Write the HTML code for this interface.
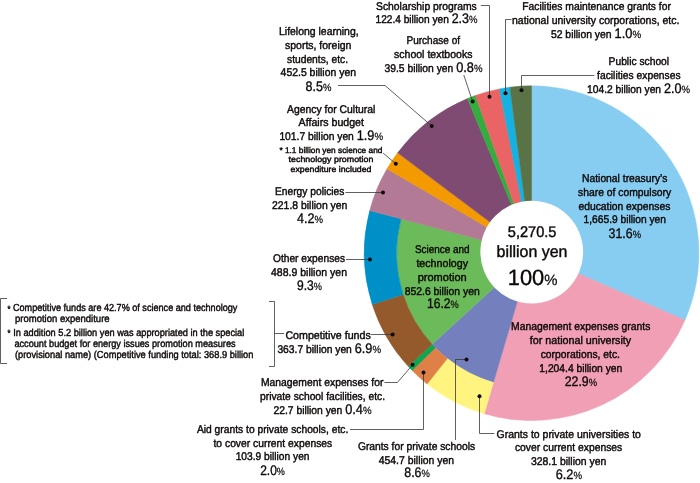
<!DOCTYPE html>
<html lang="en"><head><meta charset="utf-8"><title>Budget breakdown</title>
<style>
html,body{margin:0;padding:0;background:#fff;}
svg{display:block;}
text{font-family:"Liberation Sans",sans-serif;fill:#0e0908;stroke:#0e0908;stroke-width:0.42;text-rendering:geometricPrecision;}
.ln polyline{fill:none;stroke:#383838;stroke-width:0.8;}
</style></head><body>
<svg width="700" height="483" viewBox="0 0 700 483">
<rect width="700" height="483" fill="#fff"/>
<g shape-rendering="geometricPrecision">
<path d="M531.55 85.85A167.35 167.35 0 0 1 684.93 320.14L531.55 253.20Z" fill="#87cdf2" stroke="#87cdf2" stroke-width="0.5" stroke-linejoin="round"/>
<path d="M684.93 320.14A167.35 167.35 0 0 1 484.26 413.73L531.55 253.20Z" fill="#f09fb4" stroke="#f09fb4" stroke-width="0.5" stroke-linejoin="round"/>
<path d="M493.43 382.60A134.9 134.9 0 0 1 432.12 344.36L531.55 253.20Z" fill="#7480be" stroke="#7480be" stroke-width="0.5" stroke-linejoin="round"/>
<path d="M484.26 413.73A167.35 167.35 0 0 1 427.08 383.94L447.34 358.59A134.9 134.9 0 0 0 493.43 382.60Z" fill="#fff47f" stroke="#fff47f" stroke-width="0.5" stroke-linejoin="round"/>
<path d="M427.08 383.94A167.35 167.35 0 0 1 412.18 370.49L435.33 347.75A134.9 134.9 0 0 0 447.34 358.59Z" fill="#df8146" stroke="#df8146" stroke-width="0.5" stroke-linejoin="round"/>
<path d="M412.18 370.49A167.35 167.35 0 0 1 408.20 366.29L432.12 344.36A134.9 134.9 0 0 0 435.33 347.75Z" fill="#0fa551" stroke="#0fa551" stroke-width="0.5" stroke-linejoin="round"/>
<path d="M432.12 344.36A134.9 134.9 0 0 1 401.10 218.83L531.55 253.20Z" fill="#6cbb5a" stroke="#6cbb5a" stroke-width="0.5" stroke-linejoin="round"/>
<path d="M408.20 366.29A167.35 167.35 0 0 1 372.23 304.41L403.12 294.48A134.9 134.9 0 0 0 432.12 344.36Z" fill="#955a2b" stroke="#955a2b" stroke-width="0.5" stroke-linejoin="round"/>
<path d="M372.23 304.41A167.35 167.35 0 0 1 369.72 210.56L401.10 218.83A134.9 134.9 0 0 0 403.12 294.48Z" fill="#0090c8" stroke="#0090c8" stroke-width="0.5" stroke-linejoin="round"/>
<path d="M369.72 210.56A167.35 167.35 0 0 1 387.03 168.83L531.55 253.20Z" fill="#b27a94" stroke="#b27a94" stroke-width="0.5" stroke-linejoin="round"/>
<path d="M387.03 168.83A167.35 167.35 0 0 1 397.66 152.80L531.55 253.20Z" fill="#f39a00" stroke="#f39a00" stroke-width="0.5" stroke-linejoin="round"/>
<path d="M397.66 152.80A167.35 167.35 0 0 1 467.51 98.59L531.55 253.20Z" fill="#7f4b73" stroke="#7f4b73" stroke-width="0.5" stroke-linejoin="round"/>
<path d="M467.51 98.59A167.35 167.35 0 0 1 475.46 95.53L531.55 253.20Z" fill="#33ae3e" stroke="#33ae3e" stroke-width="0.5" stroke-linejoin="round"/>
<path d="M475.46 95.53A167.35 167.35 0 0 1 499.47 88.95L531.55 253.20Z" fill="#ea6465" stroke="#ea6465" stroke-width="0.5" stroke-linejoin="round"/>
<path d="M499.47 88.95A167.35 167.35 0 0 1 509.95 87.25L531.55 253.20Z" fill="#14b1e1" stroke="#14b1e1" stroke-width="0.5" stroke-linejoin="round"/>
<path d="M509.95 87.25A167.35 167.35 0 0 1 531.55 85.85L531.55 253.20Z" fill="#5a7346" stroke="#5a7346" stroke-width="0.5" stroke-linejoin="round"/>
<circle cx="531.75" cy="252.1" r="51.4" fill="#fff"/>
</g>
<g class="ln">
<polyline points="480.8,5.5 489.5,5.5 489.5,96.7"/>
<circle cx="489.5" cy="96.7" r="2" fill="#0e0908" stroke="none"/>
<polyline points="463.8,75 472.6,101.6"/>
<circle cx="472.6" cy="101.6" r="2" fill="#0e0908" stroke="none"/>
<polyline points="511.4,19.5 505.5,19.5 505.5,93.2"/>
<circle cx="505.5" cy="93.2" r="2" fill="#0e0908" stroke="none"/>
<polyline points="594.3,75.5 521.5,75.5 521.5,90.2"/>
<circle cx="521.5" cy="90.2" r="2" fill="#0e0908" stroke="none"/>
<polyline points="338,85.5 385,85.5 431.7,126"/>
<circle cx="431.7" cy="126" r="2" fill="#0e0908" stroke="none"/>
<polyline points="383,153 395.8,163.8"/>
<circle cx="395.8" cy="163.8" r="2" fill="#0e0908" stroke="none"/>
<polyline points="345.4,192.5 383,192.5"/>
<circle cx="383" cy="192.5" r="2" fill="#0e0908" stroke="none"/>
<polyline points="346,259.5 370,259.5"/>
<circle cx="370" cy="259.5" r="2" fill="#0e0908" stroke="none"/>
<polyline points="371,334.5 392.6,334.5"/>
<circle cx="392.6" cy="334.5" r="2" fill="#0e0908" stroke="none"/>
<polyline points="384.4,382.5 397.4,382.5 412.6,364.8"/>
<circle cx="412.6" cy="364.8" r="2" fill="#0e0908" stroke="none"/>
<polyline points="350,429.5 423.5,429.5 423.5,372.4"/>
<circle cx="423.5" cy="372.4" r="2" fill="#0e0908" stroke="none"/>
<polyline points="455.5,440 455.5,359.5 466.5,359.5"/>
<circle cx="466.5" cy="359.5" r="2" fill="#0e0908" stroke="none"/>
<polyline points="494.3,433.5 479.5,433.5 479.5,396.2"/>
<circle cx="479.5" cy="396.2" r="2" fill="#0e0908" stroke="none"/>
<polyline points="7,298.5 0.5,298.5 0.5,363.5 7,363.5"/>
<polyline points="269,301.5 274.5,301.5 274.5,366.5 269,366.5"/>
<polyline points="274.5,333.5 284.2,333.5"/>
</g>
<g>
<text x="376" y="9.85" font-size="11.2" textLength="100.8" lengthAdjust="spacingAndGlyphs" xml:space="preserve">Scholarship programs</text>
<text x="375.5" y="23.35" font-size="11.2" textLength="102.0" lengthAdjust="spacingAndGlyphs" xml:space="preserve"><tspan font-size="11.2">122.4 billion yen </tspan><tspan font-size="13.8" stroke-width="0.34">2.3</tspan><tspan font-size="10.5" stroke-width="0.22">%</tspan></text>
<text x="406.5" y="44.05" font-size="11.2" textLength="53.5" lengthAdjust="spacingAndGlyphs" xml:space="preserve">Purchase of</text>
<text x="394" y="57.85" font-size="11.2" textLength="78.5" lengthAdjust="spacingAndGlyphs" xml:space="preserve">school textbooks</text>
<text x="384.5" y="72.05" font-size="11.2" textLength="98.0" lengthAdjust="spacingAndGlyphs" xml:space="preserve"><tspan font-size="11.2">39.5 billion yen </tspan><tspan font-size="13.8" stroke-width="0.34">0.8</tspan><tspan font-size="10.5" stroke-width="0.22">%</tspan></text>
<text x="522.3" y="9.55" font-size="11.2" textLength="148.6" lengthAdjust="spacingAndGlyphs" xml:space="preserve">Facilities maintenance grants for</text>
<text x="512" y="23.85" font-size="11.2" textLength="167.4" lengthAdjust="spacingAndGlyphs" xml:space="preserve">national university corporations, etc.</text>
<text x="550.9" y="37.75" font-size="11.2" textLength="90.2" lengthAdjust="spacingAndGlyphs" xml:space="preserve"><tspan font-size="11.2">52 billion yen </tspan><tspan font-size="13.8" stroke-width="0.34">1.0</tspan><tspan font-size="10.5" stroke-width="0.22">%</tspan></text>
<text x="608.6" y="64.95" font-size="11.2" textLength="60.5" lengthAdjust="spacingAndGlyphs" xml:space="preserve">Public school</text>
<text x="597.1" y="79.05" font-size="11.2" textLength="83.5" lengthAdjust="spacingAndGlyphs" xml:space="preserve">facilities expenses</text>
<text x="587.1" y="92.65" font-size="11.2" textLength="102.9" lengthAdjust="spacingAndGlyphs" xml:space="preserve"><tspan font-size="11.2">104.2 billion yen </tspan><tspan font-size="13.8" stroke-width="0.34">2.0</tspan><tspan font-size="10.5" stroke-width="0.22">%</tspan></text>
<text x="582" y="181.95" font-size="11.2" textLength="85.4" lengthAdjust="spacingAndGlyphs" xml:space="preserve">National treasury’s</text>
<text x="578" y="195.75" font-size="11.2" textLength="93.2" lengthAdjust="spacingAndGlyphs" xml:space="preserve">share of compulsory</text>
<text x="578.4" y="209.75" font-size="11.2" textLength="92.0" lengthAdjust="spacingAndGlyphs" xml:space="preserve">education expenses</text>
<text x="583.6" y="223.35" font-size="11.2" textLength="82.4" lengthAdjust="spacingAndGlyphs" xml:space="preserve">1,665.9 billion yen</text>
<text x="608.6" y="237.75" font-size="13.8" textLength="32.4" lengthAdjust="spacingAndGlyphs" xml:space="preserve"><tspan font-size="13.8" stroke-width="0.34">31.6</tspan><tspan font-size="10.5" stroke-width="0.22">%</tspan></text>
<text x="511" y="330.45" font-size="11.2" textLength="139.4" lengthAdjust="spacingAndGlyphs" xml:space="preserve">Management expenses grants</text>
<text x="529.7" y="343.95" font-size="11.2" textLength="101.5" lengthAdjust="spacingAndGlyphs" xml:space="preserve">for national university</text>
<text x="540.7" y="357.55" font-size="11.2" textLength="79.3" lengthAdjust="spacingAndGlyphs" xml:space="preserve">corporations, etc.</text>
<text x="539.3" y="371.95" font-size="11.2" textLength="83.0" lengthAdjust="spacingAndGlyphs" xml:space="preserve">1,204.4 billion yen</text>
<text x="564.7" y="385.75" font-size="13.8" textLength="32.4" lengthAdjust="spacingAndGlyphs" xml:space="preserve"><tspan font-size="13.8" stroke-width="0.34">22.9</tspan><tspan font-size="10.5" stroke-width="0.22">%</tspan></text>
<text x="507.8" y="236.7" font-size="15.4" stroke-width="0.34" textLength="48.7" lengthAdjust="spacingAndGlyphs" xml:space="preserve">5,270.5</text>
<text x="496.6" y="256.8" font-size="16.2" stroke-width="0.34" textLength="70.8" lengthAdjust="spacingAndGlyphs" xml:space="preserve">billion yen</text>
<text x="507.8" y="285.4" font-size="22" textLength="49.7" lengthAdjust="spacingAndGlyphs" xml:space="preserve"><tspan font-size="22" stroke-width="0.34">100</tspan><tspan font-size="15" stroke-width="0.22">%</tspan></text>
<text x="414.9" y="253.05" font-size="11.2" textLength="54.6" lengthAdjust="spacingAndGlyphs" xml:space="preserve">Science and</text>
<text x="416.4" y="266.85" font-size="11.2" textLength="51.6" lengthAdjust="spacingAndGlyphs" xml:space="preserve">technology</text>
<text x="417.7" y="281.05" font-size="11.2" textLength="49.0" lengthAdjust="spacingAndGlyphs" xml:space="preserve">promotion</text>
<text x="404.7" y="294.55" font-size="11.2" textLength="75.0" lengthAdjust="spacingAndGlyphs" xml:space="preserve">852.6 billion yen</text>
<text x="427" y="308.05" font-size="13.8" textLength="31.7" lengthAdjust="spacingAndGlyphs" xml:space="preserve"><tspan font-size="13.8" stroke-width="0.34">16.2</tspan><tspan font-size="10.5" stroke-width="0.22">%</tspan></text>
<text x="279" y="35.35" font-size="11.2" textLength="79.6" lengthAdjust="spacingAndGlyphs" xml:space="preserve">Lifelong learning,</text>
<text x="285" y="48.95" font-size="11.2" textLength="66.4" lengthAdjust="spacingAndGlyphs" xml:space="preserve">sports, foreign</text>
<text x="287" y="62.95" font-size="11.2" textLength="61.0" lengthAdjust="spacingAndGlyphs" xml:space="preserve">students, etc.</text>
<text x="280.6" y="76.35" font-size="11.2" textLength="75.4" lengthAdjust="spacingAndGlyphs" xml:space="preserve">452.5 billion yen</text>
<text x="305.6" y="90.95" font-size="13.8" textLength="25.8" lengthAdjust="spacingAndGlyphs" xml:space="preserve"><tspan font-size="13.8" stroke-width="0.34">8.5</tspan><tspan font-size="10.5" stroke-width="0.22">%</tspan></text>
<text x="287" y="112.75" font-size="11.2" textLength="88.4" lengthAdjust="spacingAndGlyphs" xml:space="preserve">Agency for Cultural</text>
<text x="298.6" y="126.35" font-size="11.2" textLength="65.4" lengthAdjust="spacingAndGlyphs" xml:space="preserve">Affairs budget</text>
<text x="279.4" y="140.15" font-size="11.2" textLength="103.6" lengthAdjust="spacingAndGlyphs" xml:space="preserve"><tspan font-size="11.2">101.7 billion yen </tspan><tspan font-size="13.8" stroke-width="0.34">1.9</tspan><tspan font-size="10.5" stroke-width="0.22">%</tspan></text>
<text x="279.4" y="152.75" font-size="8.2" textLength="103.0" lengthAdjust="spacingAndGlyphs" xml:space="preserve">* 1.1 billion yen science and</text>
<text x="288.6" y="162.35" font-size="8.2" textLength="84.8" lengthAdjust="spacingAndGlyphs" xml:space="preserve">technology promotion</text>
<text x="290.6" y="171.95" font-size="8.2" textLength="80.8" lengthAdjust="spacingAndGlyphs" xml:space="preserve">expenditure included</text>
<text x="275" y="195.35" font-size="11.2" textLength="69.4" lengthAdjust="spacingAndGlyphs" xml:space="preserve">Energy policies</text>
<text x="272" y="208.95" font-size="11.2" textLength="75.4" lengthAdjust="spacingAndGlyphs" xml:space="preserve">221.8 billion yen</text>
<text x="297" y="222.95" font-size="13.8" textLength="26.0" lengthAdjust="spacingAndGlyphs" xml:space="preserve"><tspan font-size="13.8" stroke-width="0.34">4.2</tspan><tspan font-size="10.5" stroke-width="0.22">%</tspan></text>
<text x="273" y="262.35" font-size="11.2" textLength="72.0" lengthAdjust="spacingAndGlyphs" xml:space="preserve">Other expenses</text>
<text x="271" y="276.35" font-size="11.2" textLength="76.0" lengthAdjust="spacingAndGlyphs" xml:space="preserve">488.9 billion yen</text>
<text x="297" y="289.75" font-size="13.8" textLength="25.0" lengthAdjust="spacingAndGlyphs" xml:space="preserve"><tspan font-size="13.8" stroke-width="0.34">9.3</tspan><tspan font-size="10.5" stroke-width="0.22">%</tspan></text>
<text x="285.4" y="338.95" font-size="11.2" textLength="85.4" lengthAdjust="spacingAndGlyphs" xml:space="preserve">Competitive funds</text>
<text x="277.4" y="352.95" font-size="11.2" textLength="103.6" lengthAdjust="spacingAndGlyphs" xml:space="preserve"><tspan font-size="11.2">363.7 billion yen </tspan><tspan font-size="13.8" stroke-width="0.34">6.9</tspan><tspan font-size="10.5" stroke-width="0.22">%</tspan></text>
<text x="261" y="386.35" font-size="11.2" textLength="122.4" lengthAdjust="spacingAndGlyphs" xml:space="preserve">Management expenses for</text>
<text x="260" y="400.35" font-size="11.2" textLength="125.0" lengthAdjust="spacingAndGlyphs" xml:space="preserve">private school facilities, etc.</text>
<text x="273.4" y="413.95" font-size="11.2" textLength="98.2" lengthAdjust="spacingAndGlyphs" xml:space="preserve"><tspan font-size="11.2">22.7 billion yen </tspan><tspan font-size="13.8" stroke-width="0.34">0.4</tspan><tspan font-size="10.5" stroke-width="0.22">%</tspan></text>
<text x="196.9" y="433.05" font-size="11.2" textLength="151.4" lengthAdjust="spacingAndGlyphs" xml:space="preserve">Aid grants to private schools, etc.</text>
<text x="213.5" y="446.75" font-size="11.2" textLength="118.7" lengthAdjust="spacingAndGlyphs" xml:space="preserve">to cover current expenses</text>
<text x="235.7" y="460.45" font-size="11.2" textLength="73.8" lengthAdjust="spacingAndGlyphs" xml:space="preserve">103.9 billion yen</text>
<text x="260.2" y="474.85" font-size="13.8" textLength="24.7" lengthAdjust="spacingAndGlyphs" xml:space="preserve"><tspan font-size="13.8" stroke-width="0.34">2.0</tspan><tspan font-size="10.5" stroke-width="0.22">%</tspan></text>
<text x="357.9" y="450.35" font-size="11.2" textLength="117.2" lengthAdjust="spacingAndGlyphs" xml:space="preserve">Grants for private schools</text>
<text x="378.7" y="464.05" font-size="11.2" textLength="75.4" lengthAdjust="spacingAndGlyphs" xml:space="preserve">454.7 billion yen</text>
<text x="404.3" y="477.05" font-size="13.8" textLength="25.6" lengthAdjust="spacingAndGlyphs" xml:space="preserve"><tspan font-size="13.8" stroke-width="0.34">8.6</tspan><tspan font-size="10.5" stroke-width="0.22">%</tspan></text>
<text x="496.6" y="438.25" font-size="11.2" textLength="144.3" lengthAdjust="spacingAndGlyphs" xml:space="preserve">Grants to private universities to</text>
<text x="514.9" y="451.05" font-size="11.2" textLength="107.4" lengthAdjust="spacingAndGlyphs" xml:space="preserve">cover current expenses</text>
<text x="530.9" y="464.75" font-size="11.2" textLength="75.4" lengthAdjust="spacingAndGlyphs" xml:space="preserve">328.1 billion yen</text>
<text x="555.7" y="479.05" font-size="13.8" textLength="26.3" lengthAdjust="spacingAndGlyphs" xml:space="preserve"><tspan font-size="13.8" stroke-width="0.34">6.2</tspan><tspan font-size="10.5" stroke-width="0.22">%</tspan></text>
<text x="7.4" y="311.5" font-size="9.0" textLength="3.0" lengthAdjust="spacingAndGlyphs" xml:space="preserve">*</text>
<text x="13" y="311.4" font-size="10.2" textLength="224.4" lengthAdjust="spacingAndGlyphs" xml:space="preserve">Competitive funds are 42.7% of science and technology</text>
<text x="15" y="322.2" font-size="10.2" textLength="94.6" lengthAdjust="spacingAndGlyphs" xml:space="preserve">promotion expenditure</text>
<text x="7.4" y="335.9" font-size="9.0" textLength="3.0" lengthAdjust="spacingAndGlyphs" xml:space="preserve">*</text>
<text x="13.2" y="335.8" font-size="10.2" textLength="231.1" lengthAdjust="spacingAndGlyphs" xml:space="preserve">In addition 5.2 billion yen was appropriated in the special</text>
<text x="14.4" y="346.7" font-size="10.2" textLength="221.2" lengthAdjust="spacingAndGlyphs" xml:space="preserve">account budget for energy issues promotion measures</text>
<text x="15" y="358.2" font-size="10.2" textLength="238.4" lengthAdjust="spacingAndGlyphs" xml:space="preserve">(provisional name) (Competitive funding total: 368.9 billion</text>
</g>
</svg>
</body></html>
